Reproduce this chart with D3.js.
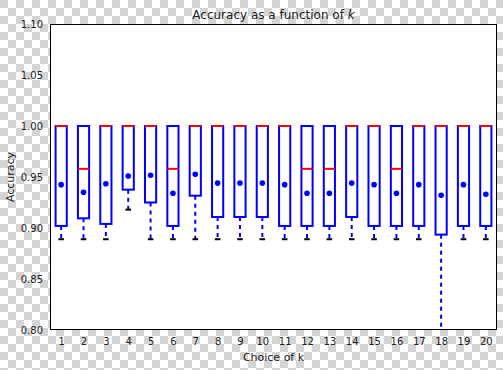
<!DOCTYPE html>
<html>
<head>
<meta charset="utf-8">
<script src="https://cdn.jsdelivr.net/npm/d3@7"></script>
<style>
  body { margin: 0; }
  svg { display: block; font-family: "DejaVu Sans", sans-serif; }
</style>
</head>
<body>
<div id="graph"></div>
<script>
const width = 503, height = 370;
const margin = {top: 24, right: 6, bottom: 40, left: 50};

// one box per choice of k
const ks = d3.range(1, 21);
const q1 = [0.902, 0.9095, 0.904, 0.9376, 0.925, 0.902, 0.9317, 0.9108, 0.9108, 0.9108,
            0.902, 0.902, 0.902, 0.9108, 0.902, 0.902, 0.902, 0.8935, 0.902, 0.902];
const medians = [1.0, 0.958, 1.0, 1.0, 1.0, 0.958, 1.0, 1.0, 1.0, 1.0,
                 1.0, 0.958, 0.958, 1.0, 1.0, 0.958, 1.0, 1.0, 1.0, 1.0];
const q3 = [1.0, 1.0, 1.0, 1.0, 1.0, 1.0, 1.0, 1.0, 1.0, 1.0,
            1.0, 1.0, 1.0, 1.0, 1.0, 1.0, 1.0, 1.0, 1.0, 1.0];
const whiskerLow = [0.889, 0.889, 0.889, 0.918, 0.889, 0.889, 0.889, 0.889, 0.889, 0.889,
                    0.889, 0.889, 0.889, 0.889, 0.889, 0.889, 0.889, 0.78, 0.889, 0.889];
const means = [0.9425, 0.935, 0.9434, 0.951, 0.9517, 0.934, 0.9526, 0.944, 0.944, 0.944,
               0.9425, 0.934, 0.934, 0.944, 0.9425, 0.934, 0.9425, 0.932, 0.9425, 0.933];
const yTicks = [0.80, 0.85, 0.90, 0.95, 1.00, 1.05, 1.10];

let svg = d3.select("#graph").
append("svg").
attr("width", width).
attr("height", height);

// transparent-looking checkerboard background
let defs = svg.append("defs");
let pat = defs.append("pattern").
attr("id", "checker").
attr("width", 16).
attr("height", 16).
attr("patternUnits", "userSpaceOnUse");
pat.append("rect").attr("width", 16).attr("height", 16).attr("fill", "#ffffff");
pat.append("rect").attr("width", 8).attr("height", 8).attr("fill", "#d4d4d4");
pat.append("rect").attr("x", 8).attr("y", 8).attr("width", 8).attr("height", 8).attr("fill", "#d4d4d4");
svg.append("rect").attr("width", width).attr("height", height).attr("fill", "url(#checker)");

const x0 = margin.left, x1 = width - margin.right;
const y0 = height - margin.bottom, y1 = margin.top;

const xScale = d3.scaleLinear().
domain([0.5, 20.5]).
range([x0, x1]);
const yScale = d3.scaleLinear().
domain([0.80, 1.10]).
range([y0, y1]);

defs.append("clipPath").attr("id", "plot-clip").
append("rect").
attr("x", x0).attr("y", y1).
attr("width", x1 - x0).attr("height", y0 - y1);

svg.append("rect").
attr("x", x0).attr("y", y1).
attr("width", x1 - x0).attr("height", y0 - y1).
attr("fill", "#ffffff");

const boxW = xScale(1.25) - xScale(0.75);
const capW = boxW / 2;

let plot = svg.append("g").attr("clip-path", "url(#plot-clip)");

let boxes = plot.selectAll("g.box").
data(ks).
enter().
append("g").
attr("class", "box");

// whiskers (dashed blue) from box bottom to cap
boxes.append("line").
attr("x1", k => xScale(k)).
attr("x2", k => xScale(k)).
attr("y1", (k, i) => yScale(q1[i])).
attr("y2", (k, i) => yScale(whiskerLow[i])).
attr("stroke", "#0000ff").
attr("stroke-width", 2).
attr("stroke-dasharray", "4,4");

// caps (black)
boxes.append("line").
attr("x1", k => xScale(k) - capW / 2).
attr("x2", k => xScale(k) + capW / 2).
attr("y1", (k, i) => yScale(whiskerLow[i])).
attr("y2", (k, i) => yScale(whiskerLow[i])).
attr("stroke", "#000000").
attr("stroke-width", 2);

// boxes
boxes.append("rect").
attr("x", k => xScale(k) - boxW / 2).
attr("y", (k, i) => yScale(q3[i])).
attr("width", boxW).
attr("height", (k, i) => yScale(q1[i]) - yScale(q3[i])).
attr("fill", "none").
attr("stroke", "#0000ff").
attr("stroke-width", 2);

// medians (red)
boxes.append("line").
attr("x1", k => xScale(k) - boxW / 2).
attr("x2", k => xScale(k) + boxW / 2).
attr("y1", (k, i) => yScale(medians[i])).
attr("y2", (k, i) => yScale(medians[i])).
attr("stroke", "#ff0000").
attr("stroke-width", 2);

// means
boxes.append("circle").
attr("cx", k => xScale(k)).
attr("cy", (k, i) => yScale(means[i])).
attr("r", 2.8).
attr("fill", "#0000ff");

// frame
svg.append("rect").
attr("x", x0 + 0.5).attr("y", y1 + 0.5).
attr("width", x1 - x0 - 1).attr("height", y0 - y1 - 1).
attr("fill", "none").
attr("stroke", "#000000").
attr("stroke-width", 1);

// axes (labels only, no visible ticks)
const xAxis = d3.axisBottom(xScale).tickValues(ks).tickFormat(d3.format("d")).tickSize(0).tickPadding(8);
const yAxis = d3.axisLeft(yScale).tickValues(yTicks).tickFormat(d3.format(".2f")).tickSize(0).tickPadding(7);

let gx = svg.append("g").
attr("transform", "translate(0," + y0 + ")").
call(xAxis);
let gy = svg.append("g").
attr("transform", "translate(" + x0 + ",0)").
call(yAxis);
[gx, gy].forEach(g => {
  g.select(".domain").remove();
  g.selectAll("text").
  attr("font-family", "DejaVu Sans").
  attr("font-size", 10).
  attr("fill", "#222222");
});

// title and axis labels
let title = svg.append("text").
attr("x", (x0 + x1) / 2).
attr("y", 19).
attr("text-anchor", "middle").
attr("font-size", 12).
attr("fill", "#222222");
title.append("tspan").text("Accuracy as a function of ");
title.append("tspan").attr("font-style", "italic").text("k");

svg.append("text").
attr("x", (x0 + x1) / 2).
attr("y", 361).
attr("text-anchor", "middle").
attr("font-size", 11).
attr("fill", "#222222").
text("Choice of k");

svg.append("text").
attr("transform", "translate(14," + (y0 + y1) / 2 + ") rotate(-90)").
attr("text-anchor", "middle").
attr("font-size", 11).
attr("fill", "#222222").
text("Accuracy");
</script>
</body>
</html>
